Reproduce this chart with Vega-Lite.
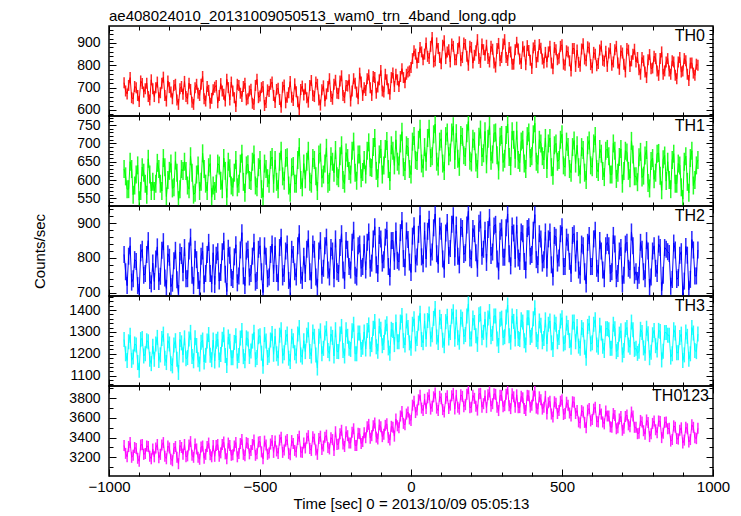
{
"$schema":"https://vega.github.io/schema/vega-lite/v6.json",
"padding":{"left":31,"top":7,"right":5,"bottom":0},
"spacing":0,
"bounds":"flush",
"config":{"font":"Liberation Sans","view":{"stroke":"#000","strokeWidth":1.5},
"axis":{"domain":false,"grid":false,"tickColor":"#000","tickWidth":1,"labelColor":"#000","titleColor":"#000","labelOverlap":false,"labelFlush":false,"labelPadding":16,"titleFontWeight":"normal","titleFontSize":15,"format":"d"},
"axisX":{"labelFontSize":15,"labelPadding":10},"axisY":{"labelFontSize":14},
"tick":{"orient":"vertical","thickness":1.5,"opacity":0.85},
"concat":{"spacing":0},"title":{"fontWeight":"normal"}},
"datasets":{"d":[
{"t":-950,"a":722,"b":630,"c":810,"d":1265,"e":3320},{"t":-945,"a":685,"b":610,"c":760,"d":1200,"e":3240},{"t":-940,"a":672,"b":575,"c":720,"d":1170,"e":3205},{"t":-935,"a":710,"b":575,"c":805,"d":1255,"e":3310},{"t":-930,"a":745,"b":650,"c":835,"d":1285,"e":3350},{"t":-925,"a":655,"b":630,"c":730,"d":1170,"e":3200},{"t":-920,"a":650,"b":560,"c":740,"d":1185,"e":3220},{"t":-915,"a":705,"b":585,"c":795,"d":1245,"e":3300},{"t":-910,"a":700,"b":615,"c":790,"d":1240,"e":3290},{"t":-905,"a":665,"b":640,"c":720,"d":1160,"e":3190},
{"t":-900,"a":638,"b":545,"c":700,"d":1125,"e":3160},{"t":-895,"a":730,"b":570,"c":815,"d":1265,"e":3325},{"t":-890,"a":718,"b":635,"c":825,"d":1270,"e":3330},{"t":-885,"a":680,"b":620,"c":750,"d":1190,"e":3230},{"t":-880,"a":695,"b":590,"c":755,"d":1200,"e":3240},{"t":-875,"a":720,"b":560,"c":810,"d":1260,"e":3315},{"t":-870,"a":660,"b":658,"c":850,"d":1255,"e":3310},{"t":-865,"a":645,"b":615,"c":735,"d":1175,"e":3210},{"t":-860,"a":735,"b":570,"c":725,"d":1155,"e":3185},{"t":-855,"a":695,"b":595,"c":785,"d":1235,"e":3285},
{"t":-850,"a":660,"b":570,"c":732,"d":1175,"e":3205},{"t":-845,"a":700,"b":590,"c":797,"d":1245,"e":3295},{"t":-840,"a":725,"b":647,"c":832,"d":1275,"e":3330},{"t":-835,"a":655,"b":630,"c":732,"d":1170,"e":3195},{"t":-830,"a":677,"b":590,"c":747,"d":1195,"e":3230},{"t":-825,"a":720,"b":570,"c":822,"d":1270,"e":3325},{"t":-820,"a":747,"b":660,"c":847,"d":1290,"e":3350},{"t":-815,"a":665,"b":635,"c":742,"d":1180,"e":3210},{"t":-810,"a":640,"b":555,"c":712,"d":1160,"e":3185},{"t":-805,"a":730,"b":600,"c":812,"d":1260,"e":3315},
{"t":-800,"a":700,"b":625,"c":802,"d":1245,"e":3295},{"t":-795,"a":680,"b":645,"c":717,"d":1155,"e":3180},{"t":-790,"a":650,"b":577,"c":727,"d":1145,"e":3165},{"t":-785,"a":710,"b":580,"c":792,"d":1240,"e":3290},{"t":-780,"a":715,"b":653,"c":822,"d":1260,"e":3310},{"t":-775,"a":645,"b":620,"c":737,"d":1175,"e":3200},{"t":-770,"a":625,"b":545,"c":697,"d":1115,"e":3135},{"t":-765,"a":695,"b":575,"c":817,"d":1265,"e":3320},{"t":-760,"a":705,"b":630,"c":807,"d":1250,"e":3300},{"t":-755,"a":670,"b":625,"c":757,"d":1195,"e":3230},
{"t":-750,"a":728,"b":650,"c":830,"d":1273,"e":3330},{"t":-745,"a":660,"b":625,"c":740,"d":1178,"e":3205},{"t":-740,"a":650,"b":585,"c":740,"d":1183,"e":3215},{"t":-735,"a":720,"b":575,"c":820,"d":1268,"e":3325},{"t":-730,"a":692,"b":665,"c":860,"d":1298,"e":3360},{"t":-725,"a":635,"b":620,"c":750,"d":1188,"e":3220},{"t":-720,"a":625,"b":560,"c":720,"d":1168,"e":3200},{"t":-715,"a":700,"b":565,"c":825,"d":1273,"e":3335},{"t":-710,"a":715,"b":615,"c":795,"d":1238,"e":3285},{"t":-705,"a":675,"b":640,"c":735,"d":1173,"e":3200},
{"t":-700,"a":665,"b":570,"c":710,"d":1153,"e":3180},{"t":-695,"a":715,"b":595,"c":805,"d":1253,"e":3305},{"t":-690,"a":750,"b":673,"c":820,"d":1263,"e":3315},{"t":-685,"a":650,"b":630,"c":725,"d":1163,"e":3190},{"t":-680,"a":640,"b":590,"c":755,"d":1193,"e":3230},{"t":-675,"a":705,"b":570,"c":810,"d":1258,"e":3310},{"t":-670,"a":688,"b":635,"c":845,"d":1288,"e":3345},{"t":-665,"a":630,"b":645,"c":755,"d":1193,"e":3225},{"t":-660,"a":652,"b":553,"c":725,"d":1173,"e":3205},{"t":-655,"a":690,"b":585,"c":815,"d":1263,"e":3320},
{"t":-650,"a":702,"b":570,"c":723,"d":1167,"e":3210},{"t":-645,"a":710,"b":590,"c":808,"d":1257,"e":3320},{"t":-640,"a":632,"b":645,"c":818,"d":1267,"e":3330},{"t":-635,"a":665,"b":640,"c":733,"d":1172,"e":3210},{"t":-630,"a":718,"b":598,"c":758,"d":1197,"e":3245},{"t":-625,"a":685,"b":575,"c":818,"d":1267,"e":3330},{"t":-620,"a":670,"b":660,"c":848,"d":1287,"e":3355},{"t":-615,"a":640,"b":625,"c":753,"d":1192,"e":3235},{"t":-610,"a":738,"b":552,"c":703,"d":1147,"e":3185},{"t":-605,"a":700,"b":650,"c":828,"d":1277,"e":3345},
{"t":-600,"a":645,"b":632,"c":808,"d":1257,"e":3320},{"t":-595,"a":725,"b":585,"c":743,"d":1182,"e":3220},{"t":-590,"a":685,"b":580,"c":738,"d":1182,"e":3225},{"t":-585,"a":655,"b":620,"c":803,"d":1252,"e":3315},{"t":-580,"a":615,"b":655,"c":838,"d":1282,"e":3350},{"t":-575,"a":715,"b":580,"c":728,"d":1167,"e":3205},{"t":-570,"a":710,"b":590,"c":748,"d":1192,"e":3240},{"t":-565,"a":675,"b":645,"c":823,"d":1272,"e":3340},{"t":-560,"a":660,"b":672,"c":873,"d":1307,"e":3380},{"t":-555,"a":705,"b":595,"c":748,"d":1187,"e":3230},
{"t":-550,"a":720,"b":565,"c":720,"d":1168,"e":3215},{"t":-545,"a":645,"b":640,"c":820,"d":1273,"e":3350},{"t":-540,"a":650,"b":643,"c":825,"d":1268,"e":3340},{"t":-535,"a":685,"b":600,"c":745,"d":1188,"e":3235},{"t":-530,"a":693,"b":597,"c":755,"d":1213,"e":3270},{"t":-525,"a":630,"b":650,"c":805,"d":1258,"e":3330},{"t":-520,"a":625,"b":670,"c":845,"d":1298,"e":3375},{"t":-515,"a":710,"b":585,"c":730,"d":1173,"e":3220},{"t":-510,"a":737,"b":580,"c":735,"d":1183,"e":3235},{"t":-505,"a":655,"b":635,"c":825,"d":1278,"e":3355},
{"t":-500,"a":663,"b":655,"c":835,"d":1283,"e":3360},{"t":-495,"a":700,"b":575,"c":760,"d":1203,"e":3255},{"t":-490,"a":705,"b":553,"c":700,"d":1143,"e":3185},{"t":-485,"a":620,"b":645,"c":835,"d":1288,"e":3365},{"t":-480,"a":633,"b":630,"c":805,"d":1258,"e":3325},{"t":-475,"a":690,"b":605,"c":740,"d":1183,"e":3230},{"t":-470,"a":683,"b":590,"c":745,"d":1193,"e":3245},{"t":-465,"a":715,"b":655,"c":810,"d":1263,"e":3335},{"t":-460,"a":725,"b":663,"c":840,"d":1293,"e":3370},{"t":-455,"a":665,"b":590,"c":755,"d":1198,"e":3250},
{"t":-450,"a":634,"b":655,"c":835,"d":1280,"e":3365},{"t":-445,"a":692,"b":595,"c":755,"d":1200,"e":3265},{"t":-440,"a":697,"b":575,"c":730,"d":1180,"e":3240},{"t":-435,"a":647,"b":650,"c":830,"d":1285,"e":3375},{"t":-430,"a":612,"b":680,"c":860,"d":1310,"e":3405},{"t":-425,"a":702,"b":610,"c":745,"d":1190,"e":3250},{"t":-420,"a":712,"b":598,"c":755,"d":1205,"e":3275},{"t":-415,"a":632,"b":660,"c":820,"d":1275,"e":3365},{"t":-410,"a":657,"b":662,"c":840,"d":1290,"e":3380},{"t":-405,"a":677,"b":585,"c":735,"d":1180,"e":3240},
{"t":-400,"a":727,"b":565,"c":715,"d":1165,"e":3225},{"t":-395,"a":657,"b":635,"c":825,"d":1280,"e":3370},{"t":-390,"a":642,"b":638,"c":810,"d":1260,"e":3340},{"t":-385,"a":717,"b":590,"c":760,"d":1205,"e":3270},{"t":-380,"a":682,"b":590,"c":745,"d":1190,"e":3255},{"t":-375,"a":637,"b":655,"c":835,"d":1290,"e":3380},{"t":-370,"a":602,"b":690,"c":870,"d":1320,"e":3415},{"t":-365,"a":692,"b":600,"c":750,"d":1195,"e":3255},{"t":-360,"a":707,"b":580,"c":735,"d":1185,"e":3250},{"t":-355,"a":667,"b":645,"c":805,"d":1260,"e":3345},
{"t":-350,"a":695,"b":602,"c":755,"d":1210,"e":3295},{"t":-345,"a":655,"b":650,"c":825,"d":1285,"e":3395},{"t":-340,"a":635,"b":680,"c":855,"d":1310,"e":3420},{"t":-335,"a":710,"b":595,"c":760,"d":1210,"e":3290},{"t":-330,"a":732,"b":590,"c":735,"d":1190,"e":3270},{"t":-325,"a":665,"b":660,"c":840,"d":1300,"e":3410},{"t":-320,"a":660,"b":655,"c":825,"d":1280,"e":3385},{"t":-315,"a":725,"b":610,"c":745,"d":1195,"e":3275},{"t":-310,"a":715,"b":570,"c":715,"d":1135,"e":3230},{"t":-305,"a":645,"b":670,"c":820,"d":1280,"e":3390},
{"t":-300,"a":622,"b":675,"c":850,"d":1305,"e":3415},{"t":-295,"a":690,"b":605,"c":750,"d":1200,"e":3280},{"t":-290,"a":708,"b":615,"c":770,"d":1225,"e":3315},{"t":-285,"a":640,"b":645,"c":835,"d":1295,"e":3405},{"t":-280,"a":672,"b":688,"c":860,"d":1315,"e":3425},{"t":-275,"a":705,"b":590,"c":765,"d":1215,"e":3300},{"t":-270,"a":740,"b":595,"c":745,"d":1200,"e":3285},{"t":-265,"a":660,"b":665,"c":830,"d":1290,"e":3400},{"t":-260,"a":648,"b":650,"c":820,"d":1275,"e":3380},{"t":-255,"a":715,"b":620,"c":740,"d":1190,"e":3270},
{"t":-250,"a":733,"b":682,"c":855,"d":1310,"e":3460},{"t":-245,"a":675,"b":610,"c":760,"d":1210,"e":3330},{"t":-240,"a":673,"b":605,"c":755,"d":1210,"e":3335},{"t":-235,"a":730,"b":665,"c":830,"d":1290,"e":3440},{"t":-230,"a":753,"b":695,"c":870,"d":1325,"e":3475},{"t":-225,"a":665,"b":600,"c":765,"d":1215,"e":3335},{"t":-220,"a":655,"b":590,"c":735,"d":1190,"e":3310},{"t":-215,"a":710,"b":675,"c":850,"d":1310,"e":3460},{"t":-210,"a":707,"b":660,"c":825,"d":1280,"e":3420},{"t":-205,"a":735,"b":625,"c":775,"d":1225,"e":3345},
{"t":-200,"a":640,"b":615,"c":765,"d":1220,"e":3345},{"t":-195,"a":685,"b":680,"c":845,"d":1305,"e":3455},{"t":-190,"a":740,"b":705,"c":880,"d":1335,"e":3490},{"t":-185,"a":720,"b":620,"c":750,"d":1200,"e":3320},{"t":-180,"a":680,"b":598,"c":745,"d":1200,"e":3320},{"t":-175,"a":650,"b":670,"c":835,"d":1295,"e":3445},{"t":-170,"a":765,"b":670,"c":840,"d":1295,"e":3440},{"t":-165,"a":725,"b":605,"c":770,"d":1220,"e":3340},{"t":-160,"a":665,"b":622,"c":775,"d":1230,"e":3360},{"t":-155,"a":700,"b":655,"c":840,"d":1300,"e":3450},
{"t":-150,"a":687,"b":615,"c":765,"d":1222,"e":3400},{"t":-145,"a":740,"b":680,"c":845,"d":1307,"e":3510},{"t":-140,"a":757,"b":703,"c":875,"d":1332,"e":3535},{"t":-135,"a":700,"b":635,"c":770,"d":1222,"e":3395},{"t":-130,"a":665,"b":633,"c":785,"d":1242,"e":3420},{"t":-125,"a":750,"b":690,"c":855,"d":1317,"e":3520},{"t":-120,"a":745,"b":715,"c":890,"d":1347,"e":3550},{"t":-115,"a":675,"b":625,"c":780,"d":1232,"e":3405},{"t":-110,"a":703,"b":605,"c":755,"d":1212,"e":3385},{"t":-105,"a":735,"b":670,"c":865,"d":1327,"e":3530},
{"t":-100,"a":777,"b":685,"c":855,"d":1312,"e":3510},{"t":-95,"a":685,"b":615,"c":785,"d":1237,"e":3410},{"t":-90,"a":680,"b":640,"c":795,"d":1252,"e":3435},{"t":-85,"a":760,"b":685,"c":860,"d":1322,"e":3525},{"t":-80,"a":735,"b":707,"c":880,"d":1337,"e":3540},{"t":-75,"a":695,"b":630,"c":775,"d":1227,"e":3400},{"t":-70,"a":670,"b":597,"c":745,"d":1202,"e":3375},{"t":-65,"a":745,"b":695,"c":850,"d":1312,"e":3515},{"t":-60,"a":765,"b":680,"c":850,"d":1307,"e":3505},{"t":-55,"a":705,"b":640,"c":790,"d":1242,"e":3415},
{"t":-50,"a":760,"b":710,"c":878,"d":1345,"e":3590},{"t":-45,"a":735,"b":650,"c":793,"d":1255,"e":3520},{"t":-40,"a":705,"b":640,"c":788,"d":1255,"e":3500},{"t":-35,"a":750,"b":700,"c":873,"d":1345,"e":3620},{"t":-30,"a":785,"b":732,"c":908,"d":1375,"e":3665},{"t":-25,"a":745,"b":635,"c":798,"d":1260,"e":3545},{"t":-20,"a":722,"b":625,"c":773,"d":1240,"e":3530},{"t":-15,"a":760,"b":695,"c":878,"d":1350,"e":3640},{"t":-10,"a":770,"b":690,"c":853,"d":1320,"e":3660},{"t":-5,"a":775,"b":630,"c":788,"d":1250,"e":3590},
{"t":0,"a":790,"b":615,"c":758,"d":1225,"e":3575},{"t":5,"a":830,"b":705,"c":863,"d":1335,"e":3730},{"t":10,"a":865,"b":720,"c":893,"d":1360,"e":3770},{"t":15,"a":850,"b":655,"c":783,"d":1245,"e":3655},{"t":20,"a":810,"b":652,"c":803,"d":1270,"e":3680},{"t":25,"a":835,"b":710,"c":868,"d":1340,"e":3785},{"t":30,"a":880,"b":740,"c":923,"d":1385,"e":3830},{"t":35,"a":860,"b":645,"c":803,"d":1265,"e":3700},{"t":40,"a":825,"b":632,"c":783,"d":1250,"e":3675},{"t":45,"a":850,"b":690,"c":878,"d":1350,"e":3790},
{"t":50,"a":900,"b":650,"c":797,"d":1267,"e":3695},{"t":55,"a":840,"b":715,"c":877,"d":1352,"e":3805},{"t":60,"a":830,"b":740,"c":912,"d":1382,"e":3835},{"t":65,"a":885,"b":660,"c":802,"d":1267,"e":3690},{"t":70,"a":925,"b":665,"c":817,"d":1287,"e":3720},{"t":75,"a":815,"b":725,"c":887,"d":1362,"e":3815},{"t":80,"a":820,"b":753,"c":927,"d":1407,"e":3855},{"t":85,"a":900,"b":650,"c":812,"d":1277,"e":3700},{"t":90,"a":875,"b":637,"c":782,"d":1252,"e":3675},{"t":95,"a":835,"b":705,"c":892,"d":1367,"e":3820},
{"t":100,"a":807,"b":713,"c":877,"d":1347,"e":3795},{"t":105,"a":890,"b":645,"c":797,"d":1262,"e":3685},{"t":110,"a":910,"b":625,"c":767,"d":1237,"e":3660},{"t":115,"a":830,"b":720,"c":872,"d":1347,"e":3800},{"t":120,"a":860,"b":730,"c":902,"d":1372,"e":3825},{"t":125,"a":870,"b":665,"c":807,"d":1272,"e":3695},{"t":130,"a":815,"b":675,"c":827,"d":1297,"e":3730},{"t":135,"a":895,"b":730,"c":897,"d":1372,"e":3825},{"t":140,"a":885,"b":747,"c":922,"d":1392,"e":3850},{"t":145,"a":825,"b":655,"c":802,"d":1267,"e":3690},
{"t":150,"a":825,"b":728,"c":895,"d":1368,"e":3830},{"t":155,"a":875,"b":658,"c":805,"d":1273,"e":3710},{"t":160,"a":905,"b":636,"c":780,"d":1253,"e":3690},{"t":165,"a":820,"b":723,"c":890,"d":1368,"e":3835},{"t":170,"a":835,"b":718,"c":885,"d":1358,"e":3820},{"t":175,"a":900,"b":668,"c":810,"d":1278,"e":3715},{"t":180,"a":893,"b":663,"c":815,"d":1288,"e":3735},{"t":185,"a":840,"b":728,"c":895,"d":1373,"e":3840},{"t":190,"a":800,"b":760,"c":935,"d":1428,"e":3900},{"t":195,"a":885,"b":653,"c":800,"d":1268,"e":3705},
{"t":200,"a":880,"b":648,"c":795,"d":1268,"e":3710},{"t":205,"a":810,"b":713,"c":885,"d":1363,"e":3830},{"t":210,"a":845,"b":706,"c":870,"d":1343,"e":3800},{"t":215,"a":865,"b":648,"c":815,"d":1283,"e":3720},{"t":220,"a":915,"b":630,"c":770,"d":1243,"e":3680},{"t":225,"a":830,"b":718,"c":900,"d":1378,"e":3845},{"t":230,"a":813,"b":738,"c":910,"d":1383,"e":3850},{"t":235,"a":895,"b":663,"c":805,"d":1273,"e":3710},{"t":240,"a":870,"b":673,"c":825,"d":1298,"e":3745},{"t":245,"a":845,"b":733,"c":880,"d":1358,"e":3825},
{"t":250,"a":890,"b":643,"c":787,"d":1263,"e":3705},{"t":255,"a":830,"b":713,"c":882,"d":1363,"e":3835},{"t":260,"a":815,"b":748,"c":917,"d":1393,"e":3865},{"t":265,"a":885,"b":653,"c":807,"d":1278,"e":3720},{"t":270,"a":872,"b":670,"c":817,"d":1293,"e":3745},{"t":275,"a":810,"b":728,"c":892,"d":1373,"e":3845},{"t":280,"a":792,"b":730,"c":897,"d":1373,"e":3840},{"t":285,"a":875,"b":668,"c":797,"d":1268,"e":3710},{"t":290,"a":898,"b":626,"c":762,"d":1238,"e":3675},{"t":295,"a":820,"b":718,"c":877,"d":1358,"e":3830},
{"t":300,"a":835,"b":723,"c":887,"d":1363,"e":3830},{"t":305,"a":895,"b":648,"c":802,"d":1273,"e":3715},{"t":310,"a":915,"b":658,"c":802,"d":1278,"e":3725},{"t":315,"a":835,"b":723,"c":887,"d":1368,"e":3840},{"t":320,"a":822,"b":753,"c":927,"d":1423,"e":3895},{"t":325,"a":880,"b":663,"c":812,"d":1283,"e":3725},{"t":330,"a":860,"b":638,"c":777,"d":1253,"e":3695},{"t":335,"a":805,"b":733,"c":892,"d":1373,"e":3845},{"t":340,"a":805,"b":710,"c":872,"d":1348,"e":3815},{"t":345,"a":870,"b":658,"c":797,"d":1268,"e":3710},
{"t":350,"a":903,"b":735,"c":895,"d":1370,"e":3835},{"t":355,"a":873,"b":655,"c":800,"d":1270,"e":3705},{"t":360,"a":828,"b":647,"c":790,"d":1265,"e":3705},{"t":365,"a":808,"b":705,"c":875,"d":1355,"e":3820},{"t":370,"a":883,"b":710,"c":870,"d":1345,"e":3805},{"t":375,"a":863,"b":645,"c":790,"d":1260,"e":3695},{"t":380,"a":803,"b":630,"c":765,"d":1240,"e":3675},{"t":385,"a":888,"b":720,"c":885,"d":1365,"e":3830},{"t":390,"a":866,"b":730,"c":890,"d":1365,"e":3825},{"t":395,"a":823,"b":660,"c":805,"d":1275,"e":3710},
{"t":400,"a":786,"b":665,"c":810,"d":1285,"e":3730},{"t":405,"a":878,"b":725,"c":880,"d":1360,"e":3825},{"t":410,"a":890,"b":755,"c":925,"d":1410,"e":3875},{"t":415,"a":813,"b":650,"c":795,"d":1265,"e":3700},{"t":420,"a":838,"b":643,"c":780,"d":1255,"e":3690},{"t":425,"a":893,"b":710,"c":870,"d":1350,"e":3815},{"t":430,"a":876,"b":700,"c":855,"d":1330,"e":3785},{"t":435,"a":828,"b":665,"c":785,"d":1255,"e":3690},{"t":440,"a":810,"b":655,"c":795,"d":1270,"e":3710},{"t":445,"a":858,"b":715,"c":875,"d":1355,"e":3820},
{"t":450,"a":815,"b":630,"c":770,"d":1245,"e":3640},{"t":455,"a":860,"b":700,"c":855,"d":1335,"e":3755},{"t":460,"a":885,"b":715,"c":875,"d":1350,"e":3770},{"t":465,"a":810,"b":635,"c":780,"d":1250,"e":3640},{"t":470,"a":785,"b":612,"c":745,"d":1220,"e":3610},{"t":475,"a":880,"b":695,"c":865,"d":1345,"e":3765},{"t":480,"a":870,"b":700,"c":860,"d":1335,"e":3750},{"t":485,"a":825,"b":650,"c":785,"d":1255,"e":3645},{"t":490,"a":832,"b":655,"c":800,"d":1275,"e":3675},{"t":495,"a":885,"b":710,"c":870,"d":1350,"e":3770},
{"t":500,"a":892,"b":725,"c":890,"d":1365,"e":3785},{"t":505,"a":805,"b":640,"c":775,"d":1245,"e":3635},{"t":510,"a":800,"b":635,"c":775,"d":1250,"e":3645},{"t":515,"a":865,"b":705,"c":860,"d":1340,"e":3760},{"t":520,"a":860,"b":690,"c":845,"d":1320,"e":3730},{"t":525,"a":820,"b":630,"c":790,"d":1260,"e":3650},{"t":530,"a":775,"b":620,"c":755,"d":1230,"e":3620},{"t":535,"a":875,"b":690,"c":865,"d":1345,"e":3765},{"t":540,"a":875,"b":708,"c":870,"d":1345,"e":3760},{"t":545,"a":795,"b":645,"c":785,"d":1255,"e":3645},
{"t":550,"a":868,"b":695,"c":850,"d":1325,"e":3675},{"t":555,"a":813,"b":635,"c":765,"d":1235,"e":3560},{"t":560,"a":796,"b":615,"c":750,"d":1225,"e":3550},{"t":565,"a":873,"b":690,"c":840,"d":1320,"e":3675},{"t":570,"a":896,"b":682,"c":835,"d":1310,"e":3660},{"t":575,"a":828,"b":620,"c":760,"d":1230,"e":3555},{"t":580,"a":820,"b":600,"c":725,"d":1180,"e":3500},{"t":585,"a":883,"b":695,"c":845,"d":1325,"e":3680},{"t":590,"a":878,"b":708,"c":865,"d":1340,"e":3695},{"t":595,"a":803,"b":640,"c":775,"d":1245,"e":3570},
{"t":600,"a":788,"b":635,"c":775,"d":1250,"e":3585},{"t":605,"a":858,"b":700,"c":855,"d":1335,"e":3690},{"t":610,"a":850,"b":720,"c":880,"d":1355,"e":3710},{"t":615,"a":798,"b":630,"c":770,"d":1240,"e":3565},{"t":620,"a":808,"b":622,"c":755,"d":1230,"e":3560},{"t":625,"a":868,"b":685,"c":850,"d":1330,"e":3685},{"t":630,"a":886,"b":672,"c":820,"d":1295,"e":3640},{"t":635,"a":823,"b":625,"c":765,"d":1235,"e":3560},{"t":640,"a":818,"b":608,"c":740,"d":1215,"e":3540},{"t":645,"a":863,"b":680,"c":835,"d":1315,"e":3670},
{"t":650,"a":795,"b":685,"c":845,"d":1315,"e":3620},{"t":655,"a":855,"b":665,"c":835,"d":1310,"e":3620},{"t":660,"a":875,"b":615,"c":755,"d":1225,"e":3510},{"t":665,"a":800,"b":615,"c":760,"d":1225,"e":3505},{"t":670,"a":815,"b":700,"c":865,"d":1335,"e":3645},{"t":675,"a":870,"b":680,"c":840,"d":1315,"e":3625},{"t":680,"a":885,"b":603,"c":740,"d":1210,"e":3490},{"t":685,"a":810,"b":620,"c":755,"d":1220,"e":3500},{"t":690,"a":782,"b":663,"c":820,"d":1290,"e":3590},{"t":695,"a":865,"b":685,"c":830,"d":1305,"e":3615},
{"t":700,"a":855,"b":590,"c":725,"d":1195,"e":3475},{"t":705,"a":805,"b":625,"c":750,"d":1215,"e":3495},{"t":710,"a":770,"b":680,"c":840,"d":1310,"e":3615},{"t":715,"a":875,"b":675,"c":845,"d":1320,"e":3630},{"t":720,"a":868,"b":625,"c":770,"d":1240,"e":3530},{"t":725,"a":795,"b":605,"c":765,"d":1230,"e":3510},{"t":730,"a":820,"b":707,"c":875,"d":1345,"e":3660},{"t":735,"a":850,"b":670,"c":835,"d":1310,"e":3620},{"t":740,"a":872,"b":610,"c":750,"d":1220,"e":3505},{"t":745,"a":815,"b":610,"c":760,"d":1225,"e":3505},
{"t":750,"a":835,"b":594,"c":735,"d":1202,"e":3440},{"t":755,"a":780,"b":662,"c":750,"d":1212,"e":3445},{"t":760,"a":760,"b":677,"c":845,"d":1312,"e":3575},{"t":765,"a":835,"b":607,"c":825,"d":1297,"e":3560},{"t":770,"a":820,"b":612,"c":760,"d":1227,"e":3470},{"t":775,"a":770,"b":667,"c":740,"d":1202,"e":3435},{"t":780,"a":745,"b":682,"c":850,"d":1317,"e":3580},{"t":785,"a":825,"b":592,"c":820,"d":1292,"e":3555},{"t":790,"a":848,"b":577,"c":715,"d":1182,"e":3410},{"t":795,"a":785,"b":652,"c":745,"d":1207,"e":3440},
{"t":800,"a":788,"b":660,"c":820,"d":1287,"e":3545},{"t":805,"a":840,"b":602,"c":835,"d":1307,"e":3570},{"t":810,"a":830,"b":620,"c":770,"d":1237,"e":3480},{"t":815,"a":775,"b":672,"c":755,"d":1217,"e":3450},{"t":820,"a":755,"b":674,"c":840,"d":1307,"e":3570},{"t":825,"a":830,"b":612,"c":830,"d":1302,"e":3565},{"t":830,"a":860,"b":572,"c":705,"d":1172,"e":3400},{"t":835,"a":760,"b":657,"c":750,"d":1212,"e":3445},{"t":840,"a":775,"b":667,"c":830,"d":1297,"e":3555},{"t":845,"a":815,"b":597,"c":825,"d":1297,"e":3560},
{"t":850,"a":830,"b":650,"c":818,"d":1285,"e":3490},{"t":855,"a":775,"b":600,"c":813,"d":1285,"e":3495},{"t":860,"a":760,"b":575,"c":718,"d":1185,"e":3365},{"t":865,"a":820,"b":655,"c":738,"d":1200,"e":3380},{"t":870,"a":815,"b":672,"c":843,"d":1310,"e":3520},{"t":875,"a":755,"b":590,"c":823,"d":1295,"e":3505},{"t":880,"a":740,"b":590,"c":738,"d":1205,"e":3390},{"t":885,"a":815,"b":645,"c":743,"d":1205,"e":3385},{"t":890,"a":835,"b":640,"c":808,"d":1275,"e":3475},{"t":895,"a":770,"b":580,"c":818,"d":1290,"e":3500},
{"t":900,"a":775,"b":548,"c":693,"d":1170,"e":3345},{"t":905,"a":830,"b":650,"c":733,"d":1195,"e":3375},{"t":910,"a":820,"b":665,"c":833,"d":1300,"e":3505},{"t":915,"a":760,"b":595,"c":808,"d":1280,"e":3490},{"t":920,"a":732,"b":565,"c":708,"d":1175,"e":3355},{"t":925,"a":810,"b":660,"c":738,"d":1200,"e":3380},{"t":930,"a":810,"b":680,"c":853,"d":1320,"e":3530},{"t":935,"a":765,"b":585,"c":823,"d":1295,"e":3505},{"t":940,"a":755,"b":600,"c":748,"d":1215,"e":3400},{"t":945,"a":805,"b":640,"c":748,"d":1210,"e":3390},
{"t":950,"a":800,"b":655,"c":823,"d":1290,"e":3495}
]},
"vconcat":[
{"width":604,"height":90,"title":{"text":"ae408024010_20131009050513_wam0_trn_4band_long.qdp","anchor":"start","frame":"group","fontSize":15,"fontWeight":"normal","offset":-1,"color":"#000"},
"resolve":{"axis":{"x":"independent","y":"independent"}},
"layer":[
{"data":{"name":"d"},"mark":{"type":"tick","color":"#ff0000","size":11,"clip":true},
"encoding":{"x":{"field":"t","type":"quantitative","axis":null},"y":{"field":"a","type":"quantitative","axis":null}}},
{"data":{"name":"d"},"mark":{"type":"line","color":"#ff0000","strokeWidth":1,"clip":true},
"encoding":{"x":{"field":"t","type":"quantitative","scale":{"domain":[-1000,1000],"nice":false},"axis":{"orient":"bottom","values":[-1000,-900,-800,-700,-600,-500,-400,-300,-200,-100,0,100,200,300,400,500,600,700,800,900,1000],"labels":false,"title":null,"tickSize":{"condition":{"test":"datum.value % 500 === 0","value":-7},"value":-4}}},
"y":{"field":"a","type":"quantitative","scale":{"domain":[573,976],"nice":false,"zero":false},"axis":{"orient":"left","values":[580,600,620,640,660,680,700,720,740,760,780,800,820,840,860,880,900,920,940,960],"title":null,"labelExpr":"datum.value % 100 === 0 ? datum.label : ''","tickSize":{"condition":{"test":"datum.value % 100 === 0","value":-7},"value":-4}}}}},
{"data":{"name":"d"},"mark":{"type":"line","opacity":0},
"encoding":{"x":{"field":"t","type":"quantitative","axis":{"orient":"top","values":[-1000,-900,-800,-700,-600,-500,-400,-300,-200,-100,0,100,200,300,400,500,600,700,800,900,1000],"labels":false,"title":null,"tickSize":{"condition":{"test":"datum.value % 500 === 0","value":-7},"value":-4}}},
"y":{"field":"a","type":"quantitative","axis":{"orient":"right","values":[580,600,620,640,660,680,700,720,740,760,780,800,820,840,860,880,900,920,940,960],"labels":false,"title":null,"tickSize":{"condition":{"test":"datum.value % 100 === 0","value":-7},"value":-4}}}}},
{"data":{"values":[{}]},"mark":{"type":"text","text":"TH0","align":"right","baseline":"top","dx":-8,"dy":2,"fontSize":16,"color":"#000"},
"encoding":{"x":{"datum":1000,"type":"quantitative","axis":null},"y":{"datum":976,"type":"quantitative","axis":null}}}
]},
{"width":604,"height":90,
"resolve":{"axis":{"x":"independent","y":"independent"}},
"layer":[
{"data":{"name":"d"},"mark":{"type":"tick","color":"#00ff00","size":18,"clip":true},
"encoding":{"x":{"field":"t","type":"quantitative","axis":null},"y":{"field":"b","type":"quantitative","axis":null}}},
{"data":{"name":"d"},"mark":{"type":"line","color":"#00ff00","strokeWidth":1,"clip":true},
"encoding":{"x":{"field":"t","type":"quantitative","scale":{"domain":[-1000,1000],"nice":false},"axis":{"orient":"bottom","values":[-1000,-900,-800,-700,-600,-500,-400,-300,-200,-100,0,100,200,300,400,500,600,700,800,900,1000],"labels":false,"title":null,"tickSize":{"condition":{"test":"datum.value % 500 === 0","value":-7},"value":-4}}},
"y":{"field":"b","type":"quantitative","scale":{"domain":[529,775],"nice":false,"zero":false},"axis":{"orient":"left","values":[530,540,550,560,570,580,590,600,610,620,630,640,650,660,670,680,690,700,710,720,730,740,750,760,770],"title":null,"labelExpr":"datum.value % 50 === 0 ? datum.label : ''","tickSize":{"condition":{"test":"datum.value % 50 === 0","value":-7},"value":-4}}}}},
{"data":{"name":"d"},"mark":{"type":"line","opacity":0},
"encoding":{"x":{"field":"t","type":"quantitative","axis":{"orient":"top","values":[-1000,-900,-800,-700,-600,-500,-400,-300,-200,-100,0,100,200,300,400,500,600,700,800,900,1000],"labels":false,"title":null,"tickSize":{"condition":{"test":"datum.value % 500 === 0","value":-7},"value":-4}}},
"y":{"field":"b","type":"quantitative","axis":{"orient":"right","values":[530,540,550,560,570,580,590,600,610,620,630,640,650,660,670,680,690,700,710,720,730,740,750,760,770],"labels":false,"title":null,"tickSize":{"condition":{"test":"datum.value % 50 === 0","value":-7},"value":-4}}}}},
{"data":{"values":[{}]},"mark":{"type":"text","text":"TH1","align":"right","baseline":"top","dx":-8,"dy":2,"fontSize":16,"color":"#000"},
"encoding":{"x":{"datum":1000,"type":"quantitative","axis":null},"y":{"datum":775,"type":"quantitative","axis":null}}}
]},
{"width":604,"height":90,
"resolve":{"axis":{"x":"independent","y":"independent"}},
"layer":[
{"data":{"name":"d"},"mark":{"type":"tick","color":"#0000ff","size":17,"clip":true},
"encoding":{"x":{"field":"t","type":"quantitative","axis":null},"y":{"field":"c","type":"quantitative","axis":null}}},
{"data":{"name":"d"},"mark":{"type":"line","color":"#0000ff","strokeWidth":1,"clip":true},
"encoding":{"x":{"field":"t","type":"quantitative","scale":{"domain":[-1000,1000],"nice":false},"axis":{"orient":"bottom","values":[-1000,-900,-800,-700,-600,-500,-400,-300,-200,-100,0,100,200,300,400,500,600,700,800,900,1000],"labels":false,"title":null,"tickSize":{"condition":{"test":"datum.value % 500 === 0","value":-7},"value":-4}}},
"y":{"field":"c","type":"quantitative","scale":{"domain":[690,950],"nice":false,"zero":false},"axis":{"orient":"left","values":[700,720,740,760,780,800,820,840,860,880,900,920,940],"title":"Counts/sec","titlePadding":29,"labelExpr":"datum.value % 100 === 0 ? datum.label : ''","tickSize":{"condition":{"test":"datum.value % 100 === 0","value":-7},"value":-4}}}}},
{"data":{"name":"d"},"mark":{"type":"line","opacity":0},
"encoding":{"x":{"field":"t","type":"quantitative","axis":{"orient":"top","values":[-1000,-900,-800,-700,-600,-500,-400,-300,-200,-100,0,100,200,300,400,500,600,700,800,900,1000],"labels":false,"title":null,"tickSize":{"condition":{"test":"datum.value % 500 === 0","value":-7},"value":-4}}},
"y":{"field":"c","type":"quantitative","axis":{"orient":"right","values":[700,720,740,760,780,800,820,840,860,880,900,920,940],"labels":false,"title":null,"tickSize":{"condition":{"test":"datum.value % 100 === 0","value":-7},"value":-4}}}}},
{"data":{"values":[{}]},"mark":{"type":"text","text":"TH2","align":"right","baseline":"top","dx":-8,"dy":2,"fontSize":16,"color":"#000"},
"encoding":{"x":{"datum":1000,"type":"quantitative","axis":null},"y":{"datum":950,"type":"quantitative","axis":null}}}
]},
{"width":604,"height":90,
"resolve":{"axis":{"x":"independent","y":"independent"}},
"layer":[
{"data":{"name":"d"},"mark":{"type":"tick","color":"#00ffff","size":15,"clip":true},
"encoding":{"x":{"field":"t","type":"quantitative","axis":null},"y":{"field":"d","type":"quantitative","axis":null}}},
{"data":{"name":"d"},"mark":{"type":"line","color":"#00ffff","strokeWidth":1,"clip":true},
"encoding":{"x":{"field":"t","type":"quantitative","scale":{"domain":[-1000,1000],"nice":false},"axis":{"orient":"bottom","values":[-1000,-900,-800,-700,-600,-500,-400,-300,-200,-100,0,100,200,300,400,500,600,700,800,900,1000],"labels":false,"title":null,"tickSize":{"condition":{"test":"datum.value % 500 === 0","value":-7},"value":-4}}},
"y":{"field":"d","type":"quantitative","scale":{"domain":[1053,1464],"nice":false,"zero":false},"axis":{"orient":"left","values":[1060,1080,1100,1120,1140,1160,1180,1200,1220,1240,1260,1280,1300,1320,1340,1360,1380,1400,1420,1440,1460],"title":null,"labelExpr":"datum.value % 100 === 0 ? datum.label : ''","tickSize":{"condition":{"test":"datum.value % 100 === 0","value":-7},"value":-4}}}}},
{"data":{"name":"d"},"mark":{"type":"line","opacity":0},
"encoding":{"x":{"field":"t","type":"quantitative","axis":{"orient":"top","values":[-1000,-900,-800,-700,-600,-500,-400,-300,-200,-100,0,100,200,300,400,500,600,700,800,900,1000],"labels":false,"title":null,"tickSize":{"condition":{"test":"datum.value % 500 === 0","value":-7},"value":-4}}},
"y":{"field":"d","type":"quantitative","axis":{"orient":"right","values":[1060,1080,1100,1120,1140,1160,1180,1200,1220,1240,1260,1280,1300,1320,1340,1360,1380,1400,1420,1440,1460],"labels":false,"title":null,"tickSize":{"condition":{"test":"datum.value % 100 === 0","value":-7},"value":-4}}}}},
{"data":{"values":[{}]},"mark":{"type":"text","text":"TH3","align":"right","baseline":"top","dx":-8,"dy":2,"fontSize":16,"color":"#000"},
"encoding":{"x":{"datum":1000,"type":"quantitative","axis":null},"y":{"datum":1464,"type":"quantitative","axis":null}}}
]},
{"width":604,"height":90,
"resolve":{"axis":{"x":"independent","y":"independent"}},
"layer":[
{"data":{"name":"d"},"mark":{"type":"tick","color":"#ff00ff","size":11,"clip":true},
"encoding":{"x":{"field":"t","type":"quantitative","axis":null},"y":{"field":"e","type":"quantitative","axis":null}}},
{"data":{"name":"d"},"mark":{"type":"line","color":"#ff00ff","strokeWidth":1,"clip":true},
"encoding":{"x":{"field":"t","type":"quantitative","scale":{"domain":[-1000,1000],"nice":false},"axis":{"orient":"bottom","values":[-1000,-900,-800,-700,-600,-500,-400,-300,-200,-100,0,100,200,300,400,500,600,700,800,900,1000],"title":"Time [sec] 0 = 2013/10/09 05:05:13","titlePadding":-1,"labelExpr":"datum.value % 500 === 0 ? datum.label : ''","tickSize":{"condition":{"test":"datum.value % 500 === 0","value":-7},"value":-4}}},
"y":{"field":"e","type":"quantitative","scale":{"domain":[3010,3925],"nice":false,"zero":false},"axis":{"orient":"left","values":[3100,3200,3300,3400,3500,3600,3700,3800,3900],"title":null,"labelExpr":"datum.value % 200 === 0 ? datum.label : ''","tickSize":{"condition":{"test":"datum.value % 200 === 0","value":-7},"value":-4}}}}},
{"data":{"name":"d"},"mark":{"type":"line","opacity":0},
"encoding":{"x":{"field":"t","type":"quantitative","axis":{"orient":"top","values":[-1000,-900,-800,-700,-600,-500,-400,-300,-200,-100,0,100,200,300,400,500,600,700,800,900,1000],"labels":false,"title":null,"tickSize":{"condition":{"test":"datum.value % 500 === 0","value":-7},"value":-4}}},
"y":{"field":"e","type":"quantitative","axis":{"orient":"right","values":[3100,3200,3300,3400,3500,3600,3700,3800,3900],"labels":false,"title":null,"tickSize":{"condition":{"test":"datum.value % 200 === 0","value":-7},"value":-4}}}}},
{"data":{"values":[{}]},"mark":{"type":"text","text":"TH0123","align":"right","baseline":"top","dx":-4,"dy":2,"fontSize":16,"color":"#000"},
"encoding":{"x":{"datum":1000,"type":"quantitative","axis":null},"y":{"datum":3925,"type":"quantitative","axis":null}}}
]}
]
}
